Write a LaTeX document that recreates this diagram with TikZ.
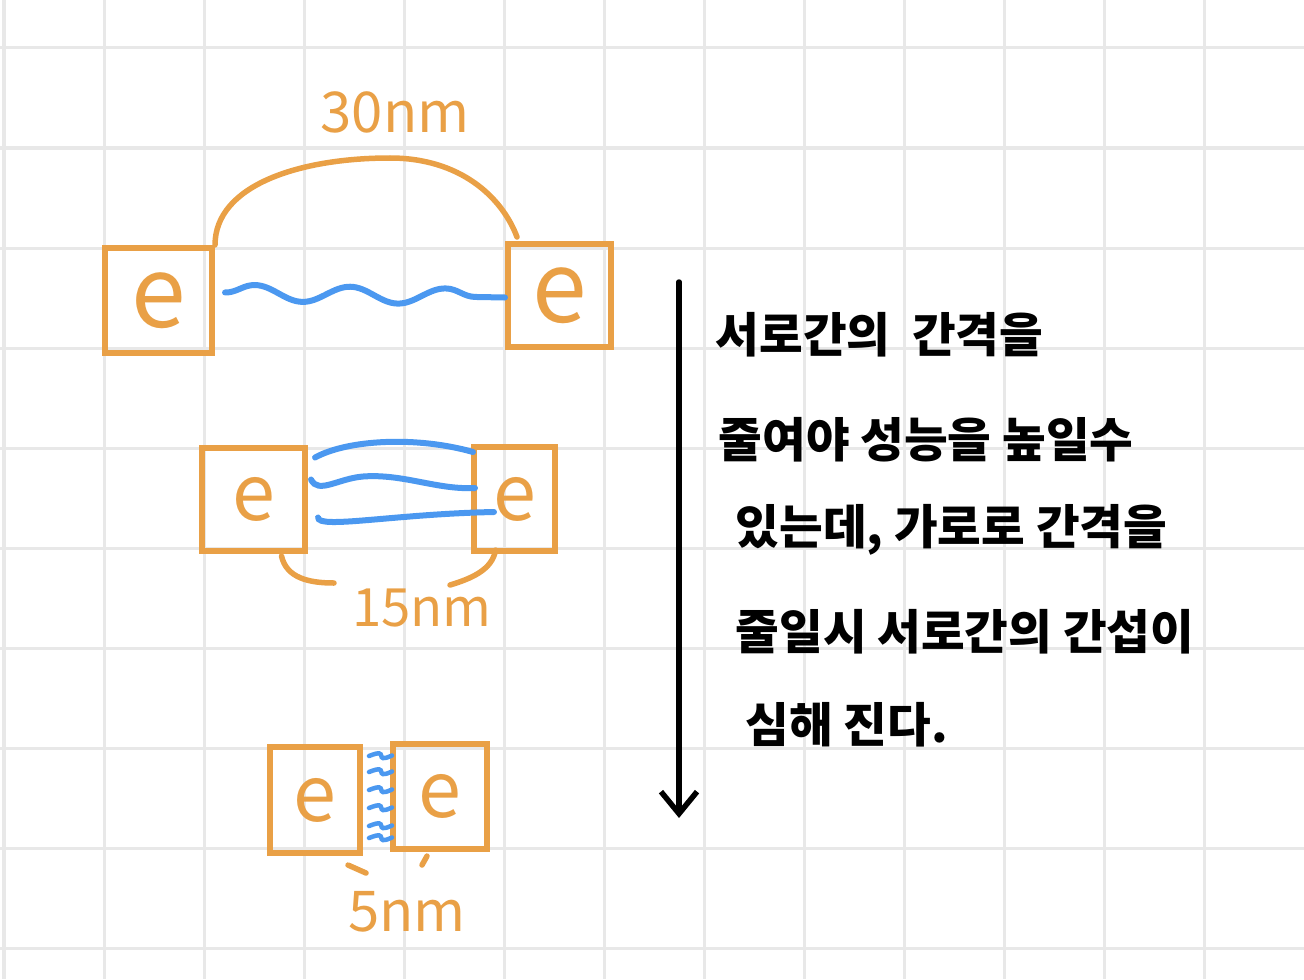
\documentclass[tikz,border=0pt]{standalone}
\usepackage{fontspec}
\setmainfont{Noto Sans CJK KR}
\usetikzlibrary{arrows.meta,decorations.pathmorphing}
\definecolor{eorange}{RGB}{233,160,70}
\definecolor{eblue}{RGB}{75,152,240}
\begin{document}
\begin{tikzpicture}
[x=0.01cm,y=-0.01cm,
e box/.style={draw=eorange,line width=0.06cm,text=eorange,inner sep=0pt,font=\fontsize{22pt}{22pt}\selectfont},
wave/.style={draw=eblue,line width=0.06cm,line cap=round},
gap line/.style={draw=eorange,line width=0.055cm,line cap=round},
gap label/.style={text=eorange,inner sep=0pt,font=\fontsize{16pt}{16pt}\selectfont},
note text/.style={anchor=west,inner sep=0pt,font=\fontsize{13.5pt}{16pt}\selectfont\bfseries}]
\useasboundingbox (0,0) rectangle (1304,979);
\foreach \gx in {4,104,...,1204} \draw[gray!18,line width=0.03cm] (\gx,0) -- (\gx,979);
\foreach \gy in {48,148,...,948} \draw[gray!18,line width=0.03cm] (0,\gy) -- (1304,\gy);

\node[e box,minimum width=1.07cm,minimum height=1.05cm,font=\fontsize{28pt}{28pt}\selectfont] (top left) at (158.5,300.5) {e};
\node[e box,minimum width=1.03cm,minimum height=1.03cm,font=\fontsize{28pt}{28pt}\selectfont] (top right) at (559.5,295.5) {e};
\draw[wave,decorate,decoration={snake,amplitude=0.08cm,segment length=0.953cm}]
  ([shift={(10,-8)}]top left.east) -- ([shift={(0,2)}]top right.west);
\coordinate (arc top) at (390,158);
\draw[gap line] (top left.north east) .. controls +(0,-60) and +(-90,0) .. (arc top)
  .. controls +(70,0) and +(-15,-40) .. ([shift={(12,-4)}]top right.north west);
\node[gap label] (top gap) at (395,112) {30nm};

\node[e box,minimum width=1.03cm,minimum height=1.03cm] (mid left) at (253.5,499.5) {e};
\node[e box,minimum width=0.81cm,minimum height=1.04cm] (mid right) at (514.5,499) {e};
\draw[wave] ([shift={(7,-42)}]mid left.east) .. controls +(33,-18) and +(-56,-16) .. ([shift={(2,-47)}]mid right.west);
\draw[wave] ([shift={(3,-20)}]mid left.east) .. controls +(7,15) and +(-25,2) .. ++(52,-3)
  .. controls +(40,-3) and +(-38,2) .. ([shift={(4,-11)}]mid right.west);
\draw[wave] ([shift={(10,18)}]mid left.east) .. controls +(0,12) and +(-100,2) .. ([shift={(23,13)}]mid right.west);
\coordinate (mid gap left) at (334,583);
\coordinate (mid gap right) at (450,585);
\draw[gap line] ([shift={(28,2)}]mid left.south) .. controls +(5,22) and +(-25,0) .. (mid gap left);
\draw[gap line] ([shift={(-19,-4)}]mid right.south) .. controls +(-3,20) and +(20,-6) .. (mid gap right);
\node[gap label,font=\fontsize{15pt}{15pt}\selectfont] (mid gap) at (422,608) {15nm};

\node[e box,minimum width=0.90cm,minimum height=1.06cm] (bot left) at (315,800) {e};
\node[e box,minimum width=0.94cm,minimum height=1.05cm] (bot right) at (440,796.5) {e};
\foreach \dy in {-44,-28,-10,8,26,38}
  \draw[wave,line width=0.045cm] ([shift={(6,\dy)}]bot left.east) .. controls +(22,-9) and +(-20,9) .. ([shift={(2,\dy+3)}]bot right.west);
\draw[gap line] ([shift={(-15,9)}]bot left.south east) -- +(18,8);
\draw[gap line] ([shift={(-13,4)}]bot right.south) -- +(-5,9);
\node[gap label] (bot gap) at (407,912) {5nm};

\coordinate (arrow top) at (679,282);
\coordinate (arrow tip) at (679,818);
\draw[line width=0.055cm,line cap=round,-{Straight Barb[length=0.22cm,width=0.36cm]}] (arrow top) -- (arrow tip);

\node[note text] (line one) at (715,335) {서로간의\ \ 간격을};
\node[note text] (line two) at (718,440) {줄여야 성능을 높일수};
\node[note text] (line three) at (735,530) {있는데, 가로로 간격을};
\node[note text] (line four) at (735,632) {줄일시 서로간의 간섭이};
\node[note text] (line five) at (745,725) {심해 진다.};
\end{tikzpicture}
\end{document}
